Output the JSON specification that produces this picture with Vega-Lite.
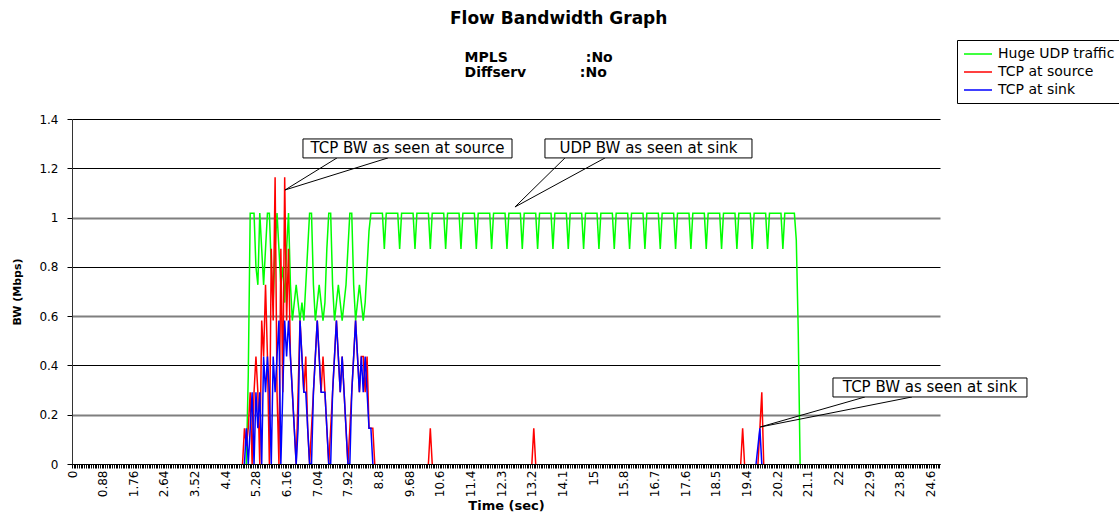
{
  "$schema": "https://vega.github.io/schema/vega-lite/v6.json",
  "width": 868,
  "height": 345,
  "autosize": {"type": "none"},
  "padding": {"left": 72, "top": 119, "right": 179, "bottom": 51},
  "background": "white",
  "config": {"view": {"stroke": null}},
  "title": {
    "text": "Flow Bandwidth Graph",
    "subtitle": ["\u200b\u00a0\u00a0\u00a0MPLS\u00a0\u00a0\u00a0\u00a0\u00a0\u00a0\u00a0\u00a0\u00a0\u00a0\u00a0\u00a0\u00a0\u00a0\u00a0\u00a0:No", "\u200b\u00a0\u00a0\u00a0Diffserv\u00a0\u00a0\u00a0\u00a0\u00a0\u00a0\u00a0\u00a0\u00a0\u00a0\u00a0:No"],
    "anchor": "start",
    "frame": "group",
    "dx": 378,
    "offset": -41,
    "font": "DejaVu Sans",
    "fontSize": 17,
    "fontWeight": "bold",
    "color": "black",
    "subtitleFont": "DejaVu Sans",
    "subtitleFontSize": 14,
    "subtitleFontWeight": "bold",
    "subtitleColor": "black",
    "subtitlePadding": 23,
    "subtitleLineHeight": 15
  },
  "datasets": {
    "udp": [
      {"t":5.005,"bw":0},{"t":5.06,"bw":0.364},{"t":5.115,"bw":1.018},{"t":5.17,"bw":1.018},{"t":5.225,"bw":1.018},{"t":5.28,"bw":0.8},{"t":5.335,"bw":0.727},{"t":5.39,"bw":1.018},{"t":5.445,"bw":0.873},{"t":5.5,"bw":0.727},{"t":5.555,"bw":0.873},{"t":5.61,"bw":1.018},{"t":5.665,"bw":1.018},{"t":5.72,"bw":0.8},{"t":5.775,"bw":0.655},{"t":5.83,"bw":0.873},{"t":5.885,"bw":1.018},{"t":5.94,"bw":0.873},{"t":5.995,"bw":0.727},{"t":6.05,"bw":0.8},{"t":6.105,"bw":0.655},{"t":6.16,"bw":0.873},{"t":6.215,"bw":1.018},{"t":6.27,"bw":0.727},{"t":6.325,"bw":0.582},{"t":6.38,"bw":0.655},{"t":6.435,"bw":0.727},{"t":6.49,"bw":0.655},{"t":6.545,"bw":0.582},{"t":6.6,"bw":0.655},{"t":6.655,"bw":0.582},{"t":6.71,"bw":0.727},{"t":6.765,"bw":0.873},{"t":6.82,"bw":1.018},{"t":6.875,"bw":1.018},{"t":6.93,"bw":0.727},{"t":6.985,"bw":0.582},{"t":7.04,"bw":0.655},{"t":7.095,"bw":0.727},{"t":7.15,"bw":0.655},{"t":7.205,"bw":0.582},{"t":7.26,"bw":0.655},{"t":7.315,"bw":0.873},{"t":7.37,"bw":1.018},{"t":7.425,"bw":1.018},{"t":7.48,"bw":0.727},{"t":7.535,"bw":0.582},{"t":7.59,"bw":0.655},{"t":7.645,"bw":0.727},{"t":7.7,"bw":0.655},{"t":7.755,"bw":0.582},{"t":7.81,"bw":0.655},{"t":7.865,"bw":0.727},{"t":7.92,"bw":0.873},{"t":7.975,"bw":1.018},{"t":8.03,"bw":1.018},{"t":8.085,"bw":0.727},{"t":8.14,"bw":0.582},{"t":8.195,"bw":0.655},{"t":8.25,"bw":0.727},{"t":8.305,"bw":0.655},{"t":8.36,"bw":0.582},{"t":8.415,"bw":0.655},{"t":8.47,"bw":0.8},{"t":8.525,"bw":0.945},{"t":8.58,"bw":1.018},{"t":8.635,"bw":1.018},
      {"t":8.91,"bw":1.018},{"t":8.965,"bw":0.873},{"t":9.02,"bw":1.018},
      {"t":9.35,"bw":1.018},{"t":9.405,"bw":0.873},{"t":9.46,"bw":1.018},
      {"t":9.79,"bw":1.018},{"t":9.845,"bw":0.873},{"t":9.9,"bw":1.018},
      {"t":10.23,"bw":1.018},{"t":10.285,"bw":0.873},{"t":10.34,"bw":1.018},
      {"t":10.67,"bw":1.018},{"t":10.725,"bw":0.873},{"t":10.78,"bw":1.018},
      {"t":11.11,"bw":1.018},{"t":11.165,"bw":0.873},{"t":11.22,"bw":1.018},
      {"t":11.55,"bw":1.018},{"t":11.605,"bw":0.873},{"t":11.66,"bw":1.018},
      {"t":11.99,"bw":1.018},{"t":12.045,"bw":0.873},{"t":12.1,"bw":1.018},
      {"t":12.43,"bw":1.018},{"t":12.485,"bw":0.873},{"t":12.54,"bw":1.018},
      {"t":12.87,"bw":1.018},{"t":12.925,"bw":0.873},{"t":12.98,"bw":1.018},
      {"t":13.31,"bw":1.018},{"t":13.365,"bw":0.873},{"t":13.42,"bw":1.018},
      {"t":13.75,"bw":1.018},{"t":13.805,"bw":0.873},{"t":13.86,"bw":1.018},
      {"t":14.19,"bw":1.018},{"t":14.245,"bw":0.873},{"t":14.3,"bw":1.018},
      {"t":14.63,"bw":1.018},{"t":14.685,"bw":0.873},{"t":14.74,"bw":1.018},
      {"t":15.07,"bw":1.018},{"t":15.125,"bw":0.873},{"t":15.18,"bw":1.018},
      {"t":15.51,"bw":1.018},{"t":15.565,"bw":0.873},{"t":15.62,"bw":1.018},
      {"t":15.95,"bw":1.018},{"t":16.005,"bw":0.873},{"t":16.06,"bw":1.018},
      {"t":16.39,"bw":1.018},{"t":16.445,"bw":0.873},{"t":16.5,"bw":1.018},
      {"t":16.83,"bw":1.018},{"t":16.885,"bw":0.873},{"t":16.94,"bw":1.018},
      {"t":17.27,"bw":1.018},{"t":17.325,"bw":0.873},{"t":17.38,"bw":1.018},
      {"t":17.71,"bw":1.018},{"t":17.765,"bw":0.873},{"t":17.82,"bw":1.018},
      {"t":18.15,"bw":1.018},{"t":18.205,"bw":0.873},{"t":18.26,"bw":1.018},
      {"t":18.59,"bw":1.018},{"t":18.645,"bw":0.873},{"t":18.7,"bw":1.018},
      {"t":19.03,"bw":1.018},{"t":19.085,"bw":0.873},{"t":19.14,"bw":1.018},
      {"t":19.47,"bw":1.018},{"t":19.525,"bw":0.873},{"t":19.58,"bw":1.018},
      {"t":19.91,"bw":1.018},{"t":19.965,"bw":0.873},{"t":20.02,"bw":1.018},
      {"t":20.35,"bw":1.018},{"t":20.405,"bw":0.873},{"t":20.46,"bw":1.018},
      {"t":20.735,"bw":1.018},{"t":20.79,"bw":0.909},{"t":20.845,"bw":0.545},{"t":20.9,"bw":0}
    ],
    "src": [
      {"g":1,"t":4.895,"bw":0},{"g":1,"t":4.95,"bw":0.145},{"g":1,"t":5.005,"bw":0.073},{"g":1,"t":5.06,"bw":0.145},{"g":1,"t":5.115,"bw":0.291},{"g":1,"t":5.17,"bw":0},{"g":1,"t":5.225,"bw":0.291},{"g":1,"t":5.28,"bw":0.436},{"g":1,"t":5.335,"bw":0.291},{"g":1,"t":5.39,"bw":0},{"g":1,"t":5.445,"bw":0.582},{"g":1,"t":5.5,"bw":0.436},{"g":1,"t":5.555,"bw":0.727},{"g":1,"t":5.61,"bw":0.436},{"g":1,"t":5.665,"bw":0},{"g":1,"t":5.72,"bw":0.873},{"g":1,"t":5.775,"bw":0.582},{"g":1,"t":5.83,"bw":1.164},{"g":1,"t":5.885,"bw":0.291},{"g":1,"t":5.94,"bw":0},{"g":1,"t":5.995,"bw":0.873},{"g":1,"t":6.05,"bw":0.291},{"g":1,"t":6.105,"bw":1.164},{"g":1,"t":6.16,"bw":0.582},{"g":1,"t":6.215,"bw":0.873},{"g":1,"t":6.27,"bw":0.436},{"g":1,"t":6.325,"bw":0.291},{"g":1,"t":6.38,"bw":0.145},{"g":1,"t":6.435,"bw":0},{"g":1,"t":6.49,"bw":0.291},{"g":1,"t":6.545,"bw":0.582},{"g":1,"t":6.6,"bw":0.436},{"g":1,"t":6.655,"bw":0.291},{"g":1,"t":6.71,"bw":0.436},{"g":1,"t":6.765,"bw":0.145},{"g":1,"t":6.82,"bw":0},{"g":1,"t":6.875,"bw":0.145},{"g":1,"t":6.93,"bw":0.291},{"g":1,"t":6.985,"bw":0.436},{"g":1,"t":7.04,"bw":0.582},{"g":1,"t":7.095,"bw":0.436},{"g":1,"t":7.15,"bw":0.291},{"g":1,"t":7.205,"bw":0.436},{"g":1,"t":7.26,"bw":0.291},{"g":1,"t":7.315,"bw":0.145},{"g":1,"t":7.37,"bw":0},{"g":1,"t":7.425,"bw":0.145},{"g":1,"t":7.48,"bw":0.291},{"g":1,"t":7.535,"bw":0.436},{"g":1,"t":7.59,"bw":0.582},{"g":1,"t":7.645,"bw":0.436},{"g":1,"t":7.7,"bw":0.291},{"g":1,"t":7.755,"bw":0.436},{"g":1,"t":7.81,"bw":0.291},{"g":1,"t":7.865,"bw":0.145},{"g":1,"t":7.92,"bw":0},{"g":1,"t":7.975,"bw":0.145},{"g":1,"t":8.03,"bw":0.291},{"g":1,"t":8.085,"bw":0.436},{"g":1,"t":8.14,"bw":0.582},{"g":1,"t":8.195,"bw":0.436},{"g":1,"t":8.25,"bw":0.291},{"g":1,"t":8.305,"bw":0.436},{"g":1,"t":8.36,"bw":0.436},{"g":1,"t":8.415,"bw":0.291},{"g":1,"t":8.47,"bw":0.436},{"g":1,"t":8.525,"bw":0.145},{"g":1,"t":8.58,"bw":0.145},{"g":1,"t":8.635,"bw":0.145},{"g":1,"t":8.69,"bw":0},
      {"g":2,"t":10.23,"bw":0},{"g":2,"t":10.285,"bw":0.145},{"g":2,"t":10.34,"bw":0},
      {"g":3,"t":13.2,"bw":0},{"g":3,"t":13.255,"bw":0.145},{"g":3,"t":13.31,"bw":0},
      {"g":4,"t":19.195,"bw":0},{"g":4,"t":19.25,"bw":0.145},{"g":4,"t":19.305,"bw":0},
      {"g":5,"t":19.69,"bw":0},{"g":5,"t":19.745,"bw":0.145},{"g":5,"t":19.8,"bw":0.291},{"g":5,"t":19.855,"bw":0}
    ],
    "snk": [
      {"g":1,"t":4.95,"bw":0},{"g":1,"t":5.005,"bw":0.145},{"g":1,"t":5.06,"bw":0},{"g":1,"t":5.115,"bw":0.145},{"g":1,"t":5.17,"bw":0.291},{"g":1,"t":5.225,"bw":0},{"g":1,"t":5.28,"bw":0.291},{"g":1,"t":5.335,"bw":0.145},{"g":1,"t":5.39,"bw":0.291},{"g":1,"t":5.445,"bw":0},{"g":1,"t":5.5,"bw":0.436},{"g":1,"t":5.555,"bw":0.291},{"g":1,"t":5.61,"bw":0.436},{"g":1,"t":5.665,"bw":0.291},{"g":1,"t":5.72,"bw":0},{"g":1,"t":5.775,"bw":0.436},{"g":1,"t":5.83,"bw":0.291},{"g":1,"t":5.885,"bw":0.436},{"g":1,"t":5.94,"bw":0.582},{"g":1,"t":5.995,"bw":0},{"g":1,"t":6.05,"bw":0.291},{"g":1,"t":6.105,"bw":0.582},{"g":1,"t":6.16,"bw":0.436},{"g":1,"t":6.215,"bw":0.582},{"g":1,"t":6.27,"bw":0.436},{"g":1,"t":6.325,"bw":0.291},{"g":1,"t":6.38,"bw":0.145},{"g":1,"t":6.435,"bw":0},{"g":1,"t":6.49,"bw":0.145},{"g":1,"t":6.545,"bw":0.582},{"g":1,"t":6.6,"bw":0.436},{"g":1,"t":6.655,"bw":0.291},{"g":1,"t":6.71,"bw":0.291},{"g":1,"t":6.765,"bw":0.145},{"g":1,"t":6.82,"bw":0},{"g":1,"t":6.875,"bw":0},{"g":1,"t":6.93,"bw":0.291},{"g":1,"t":6.985,"bw":0.436},{"g":1,"t":7.04,"bw":0.582},{"g":1,"t":7.095,"bw":0.436},{"g":1,"t":7.15,"bw":0.291},{"g":1,"t":7.205,"bw":0.291},{"g":1,"t":7.26,"bw":0.291},{"g":1,"t":7.315,"bw":0.145},{"g":1,"t":7.37,"bw":0},{"g":1,"t":7.425,"bw":0},{"g":1,"t":7.48,"bw":0.291},{"g":1,"t":7.535,"bw":0.436},{"g":1,"t":7.59,"bw":0.582},{"g":1,"t":7.645,"bw":0.436},{"g":1,"t":7.7,"bw":0.291},{"g":1,"t":7.755,"bw":0.436},{"g":1,"t":7.81,"bw":0.291},{"g":1,"t":7.865,"bw":0.145},{"g":1,"t":7.92,"bw":0},{"g":1,"t":7.975,"bw":0},{"g":1,"t":8.03,"bw":0.291},{"g":1,"t":8.085,"bw":0.436},{"g":1,"t":8.14,"bw":0.582},{"g":1,"t":8.195,"bw":0.436},{"g":1,"t":8.25,"bw":0.291},{"g":1,"t":8.305,"bw":0.436},{"g":1,"t":8.36,"bw":0.291},{"g":1,"t":8.415,"bw":0.436},{"g":1,"t":8.47,"bw":0.291},{"g":1,"t":8.525,"bw":0.145},{"g":1,"t":8.58,"bw":0.145},{"g":1,"t":8.635,"bw":0},
      {"g":2,"t":19.635,"bw":0},{"g":2,"t":19.69,"bw":0.073},{"g":2,"t":19.745,"bw":0.145},{"g":2,"t":19.8,"bw":0}
    ],
    "wedges": [
      {"w":1,"o":1,"t":7.606,"bw":1.242},{"w":1,"o":2,"t":6.114,"bw":1.112},{"w":1,"o":3,"t":9.07,"bw":1.242},
      {"w":2,"o":1,"t":14.15,"bw":1.242},{"w":2,"o":2,"t":12.715,"bw":1.043},{"w":2,"o":3,"t":15.3,"bw":1.242},
      {"w":3,"o":1,"t":22.76,"bw":0.272},{"w":3,"o":2,"t":19.75,"bw":0.15},{"w":3,"o":3,"t":24.11,"bw":0.272}
    ],
    "notes": [
      {"label":"TCP BW as seen at source","t1":6.63,"t2":12.63,"b1":1.242,"b2":1.319,"tc":9.63,"bc":1.281},
      {"label":"UDP BW as seen at sink","t1":13.576,"t2":19.518,"b1":1.242,"b2":1.319,"tc":16.547,"bc":1.281},
      {"label":"TCP BW as seen at sink","t1":21.843,"t2":27.411,"b1":0.272,"b2":0.349,"tc":24.627,"bc":0.311}
    ]
  },
  "resolve": {"axis": {"x": "independent", "y": "independent"}},
  "layer": [
    {
      "data": {"name": "udp"},
      "mark": {"type": "line", "strokeWidth": 1.5},
      "encoding": {
        "x": {"field": "t", "type": "quantitative", "scale": {"domain": [0, 24.915], "nice": false, "zero": false},
          "axis": {"orient": "bottom", "values": [0,0.88,1.76,2.64,3.52,4.4,5.28,6.16,7.04,7.92,8.8,9.68,10.56,11.44,12.32,13.2,14.08,14.96,15.84,16.72,17.6,18.48,19.36,20.24,21.12,22,22.88,23.76,24.64],
            "format": ".3~r", "labelAngle": 270, "ticks": false, "grid": false, "domain": true, "domainColor": "black", "domainWidth": 1,
            "labelFont": "DejaVu Sans", "labelFontSize": 12, "labelColor": "black", "labelPadding": 6, "labelFlush": false, "labelOverlap": false,
            "title": "Time (sec)", "titleFont": "DejaVu Sans", "titleFontSize": 13, "titleFontWeight": "bold", "titleColor": "black", "titlePadding": 3, "zindex": 1}},
        "y": {"field": "bw", "type": "quantitative", "scale": {"domain": [0, 1.4], "nice": false, "zero": true},
          "axis": {"values": [0,0.2,0.4,0.6,0.8,1,1.2,1.4], "format": "~g", "grid": true,
            "gridColor": {"condition": {"test": "datum.value == 0.2 || datum.value == 0.6 || datum.value == 1", "value": "#7f7f7f"}, "value": "black"},
            "gridWidth": {"condition": {"test": "datum.value == 0.2 || datum.value == 0.6 || datum.value == 1", "value": 2}, "value": 1},
            "tickSize": 5, "tickColor": "black", "domainColor": "#333333", "labelFont": "DejaVu Sans", "labelFontSize": 12, "labelColor": "black", "labelPadding": 9, "labelFlush": false,
            "title": "BW (Mbps)", "titleFont": "DejaVu Sans", "titleFontSize": 11, "titleFontWeight": "bold", "titleColor": "black", "titlePadding": 16}},
        "color": {"datum": "Huge UDP traffic", "type": "nominal",
          "scale": {"domain": ["Huge UDP traffic", "TCP at source", "TCP at sink"], "range": ["#00ff00", "#ff0000", "#0000ff"]},
          "legend": {"orient": "none", "legendX": 885, "legendY": -79, "title": null, "symbolType": "M-2,0H2", "symbolSize": 196, "symbolStrokeWidth": 1.5, "symbolOffset": 7,
            "labelFont": "DejaVu Sans", "labelFontSize": 14, "labelColor": "black", "strokeColor": "black", "fillColor": "white", "padding": 6, "rowPadding": 3, "labelOffset": 12, "labelLimit": 300}}
      }
    },
    {
      "data": {"name": "src"},
      "mark": {"type": "line", "strokeWidth": 1.5},
      "encoding": {
        "x": {"field": "t", "type": "quantitative", "axis": {"orient": "bottom", "tickCount": 453, "labels": false, "domain": false, "grid": false, "ticks": true, "tickSize": 4, "tickColor": "black", "tickWidth": 1, "title": null, "zindex": 1}},
        "y": {"field": "bw", "type": "quantitative", "axis": null},
        "detail": {"field": "g"},
        "color": {"datum": "TCP at source", "type": "nominal"}
      }
    },
    {
      "data": {"name": "snk"},
      "mark": {"type": "line", "strokeWidth": 1.5},
      "encoding": {
        "x": {"field": "t", "type": "quantitative", "axis": null},
        "y": {"field": "bw", "type": "quantitative", "axis": null},
        "detail": {"field": "g"},
        "color": {"datum": "TCP at sink", "type": "nominal"}
      }
    },
    {
      "data": {"name": "wedges"},
      "mark": {"type": "line", "color": "black", "strokeWidth": 1},
      "encoding": {
        "x": {"field": "t", "type": "quantitative", "axis": null},
        "y": {"field": "bw", "type": "quantitative", "axis": null},
        "detail": {"field": "w"},
        "order": {"field": "o"}
      }
    },
    {
      "data": {"name": "notes"},
      "mark": {"type": "rect", "fill": "white", "stroke": "black", "strokeWidth": 1},
      "encoding": {
        "x": {"field": "t1", "type": "quantitative", "axis": null},
        "x2": {"field": "t2"},
        "y": {"field": "b1", "type": "quantitative", "axis": null},
        "y2": {"field": "b2"}
      }
    },
    {
      "data": {"name": "notes"},
      "mark": {"type": "text", "font": "DejaVu Sans", "fontSize": 15, "color": "black", "align": "center", "baseline": "middle"},
      "encoding": {
        "x": {"field": "tc", "type": "quantitative", "axis": null},
        "y": {"field": "bc", "type": "quantitative", "axis": null},
        "text": {"field": "label"}
      }
    }
  ]
}
